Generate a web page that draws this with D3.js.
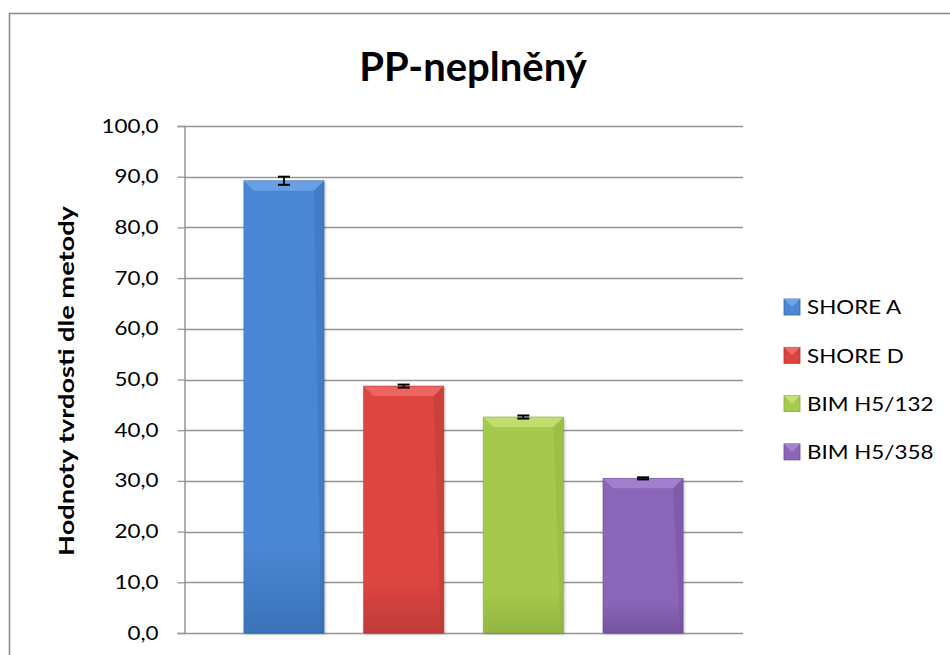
<!DOCTYPE html>
<html><head><meta charset="utf-8">
<script src="https://cdn.jsdelivr.net/npm/d3@7"></script>
<style>html,body{margin:0;padding:0;background:#fff;}svg{display:block;}</style>
</head><body>
<svg id="chart" width="950" height="655"></svg>
<script>
const title = "PP-neplněný";
const yAxisTitle = "Hodnoty tvrdosti dle metody";
const seriesNames = ["SHORE A", "SHORE D", "BIM H5/132", "BIM H5/358"];
const seriesValues = [89.2, 48.7, 42.6, 30.5];
const seriesErrors = [0.8, 0.3, 0.3, 0.2];
const yTicks = [0, 10, 20, 30, 40, 50, 60, 70, 80, 90, 100];
const seriesColors = [
  {mid:"#4a87d4", light:"#6ea4e8", dark:"#3165a8"},
  {mid:"#dc4441", light:"#ee6b67", dark:"#aa3532"},
  {mid:"#a5ca4c", light:"#c3e274", dark:"#86a83b"},
  {mid:"#8a65b8", light:"#a585d0", dark:"#664890"}
];

const svg = d3.select("#chart");
const font = "Lato, 'Open Sans', 'DejaVu Sans', sans-serif";

// outer border
svg.append("rect").attr("x",9.5).attr("y",13.5).attr("width",1000).attr("height",1000)
  .attr("fill","#fff").attr("stroke","#8c8c8c").attr("stroke-width",1.6);

const plot = {left:184, right:743, top:126, bottom:633};
const y = d3.scaleLinear().domain([0,100]).range([plot.bottom, plot.top]);
const x = d3.scaleBand().domain(seriesNames).range([plot.left, plot.right])
  .paddingInner(0.33).paddingOuter(0.5);

// gridlines
svg.append("g").selectAll("line").data(yTicks).join("line")
  .attr("x1",plot.left).attr("x2",plot.right)
  .attr("y1",d=>Math.round(y(d))+0.5).attr("y2",d=>Math.round(y(d))+0.5)
  .attr("stroke","#959595").attr("stroke-width",1.3);

// y axis
const fmt = d => d3.format(".1f")(d).replace(".", ",");
const tickScale = 1.18;
const yAxis = svg.append("g").attr("transform",`translate(${plot.left+0.5},0)`)
  .call(d3.axisLeft(y).tickValues(yTicks).tickFormat(fmt).tickSize(7).tickPadding(19));
yAxis.select(".domain").attr("stroke","#959595").attr("stroke-width",1.5);
yAxis.selectAll(".tick line").attr("stroke","#959595").attr("stroke-width",1.3);
yAxis.selectAll(".tick text").attr("font-family",font).attr("font-size",19).attr("fill","#000")
  .attr("x",-26/tickScale).attr("transform",`scale(${tickScale},1)`);

// defs gradients
const defs = svg.append("defs");
seriesColors.forEach((c,i)=>{
  const g = defs.append("linearGradient").attr("id","g"+i).attr("x1",0).attr("x2",0).attr("y1",0).attr("y2",1);
  g.append("stop").attr("offset","0%").attr("stop-color",c.mid);
  g.append("stop").attr("offset","80%").attr("stop-color",c.mid);
  g.append("stop").attr("offset","100%").attr("stop-color",d3.interpolateRgb(c.mid,c.dark)(0.6));
});
const shadow = defs.append("filter").attr("id","sh").attr("x","-20%").attr("y","-5%").attr("width","140%").attr("height","110%");
shadow.append("feDropShadow").attr("dx",1).attr("dy",1).attr("stdDeviation",1.5).attr("flood-color","#000").attr("flood-opacity",0.3);

// bars
const bars = svg.append("g").selectAll("g").data(seriesNames).join("g");
bars.each(function(name,i){
  const g = d3.select(this);
  const x0 = x(name), w = x.bandwidth();
  const yt = y(seriesValues[i]), yb = y(0);
  const c = seriesColors[i];
  const b = 10;
  g.append("rect").attr("x",x0).attr("y",yt).attr("width",w).attr("height",yb-yt)
    .attr("fill",`url(#g${i})`).attr("filter","url(#sh)");
  // top bevel
  g.append("path").attr("d",`M${x0},${yt}L${x0+w},${yt}L${x0+w-b},${yt+b}L${x0+b},${yt+b}Z`)
    .attr("fill",c.light).attr("opacity",0.85);
  // right bevel (darker)
  g.append("path").attr("d",`M${x0+w},${yt}L${x0+w-b},${yt+b}L${x0+w-3},${yb-3}L${x0+w},${yb}Z`)
    .attr("fill",c.dark).attr("opacity",0.3);
  g.append("rect").attr("x",x0).attr("y",yt).attr("width",w).attr("height",yb-yt)
    .attr("fill","none").attr("stroke",c.dark).attr("stroke-width",0.8).attr("opacity",0.6);
  // error bar
  const cx = x0 + w/2;
  const e1 = y(seriesValues[i]+seriesErrors[i]), e2 = y(seriesValues[i]-seriesErrors[i]);
  g.append("line").attr("x1",cx).attr("x2",cx).attr("y1",e1).attr("y2",e2).attr("stroke","#000").attr("stroke-width",1.8);
  [e1,e2].forEach(ev=>g.append("line").attr("x1",cx-6).attr("x2",cx+6).attr("y1",ev).attr("y2",ev)
    .attr("stroke","#000").attr("stroke-width",2));
});

// title
svg.append("text").attr("x",473).attr("y",81).attr("text-anchor","middle")
  .attr("font-family",font).attr("font-weight","bold").attr("font-size",40).text(title);

// y axis title
svg.append("text").attr("transform","translate(74,381) rotate(-90) scale(1.36,1)").attr("text-anchor","middle")
  .attr("font-family",font).attr("font-weight","bold").attr("font-size",20).text(yAxisTitle);

// legend
const legScale = 1.12;
const leg = svg.append("g").selectAll("g").data(seriesNames).join("g")
  .attr("transform",(d,i)=>`translate(784,${307 + i*48.3})`);
leg.each(function(name,i){
  const g = d3.select(this), c = seriesColors[i];
  g.append("rect").attr("x",0).attr("y",-8).attr("width",16).attr("height",16).attr("fill",c.mid).attr("stroke",c.dark).attr("stroke-width",0.8);
  g.append("path").attr("d","M0,-8L16,-8L8,0Z").attr("fill",c.light);
  g.append("text").attr("x",23/legScale).attr("y",0).attr("dy","0.36em").attr("transform",`scale(${legScale},1)`)
    .attr("font-family",font).attr("font-size",20).text(name);
});
</script>
</body></html>
